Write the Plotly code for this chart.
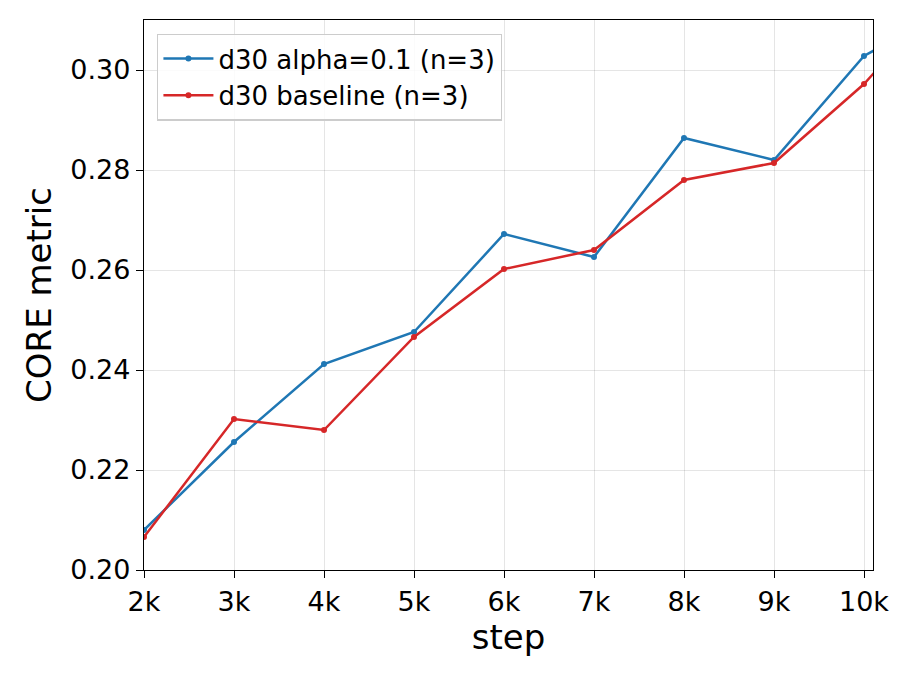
import plotly.graph_objects as go

steps = [2000, 3000, 4000, 5000, 6000, 7000, 8000, 9000, 10000, 11000]
alpha_vals = [0.2080, 0.2256, 0.2412, 0.2476, 0.2672, 0.2626, 0.2864, 0.2820, 0.3028, 0.3128]
base_vals = [0.2066, 0.2302, 0.2280, 0.2466, 0.2602, 0.2640, 0.2780, 0.2814, 0.2972, 0.3172]
tick_vals = [2000, 3000, 4000, 5000, 6000, 7000, 8000, 9000, 10000]
tick_text = ["2k", "3k", "4k", "5k", "6k", "7k", "8k", "9k", "10k"]

fig = go.Figure()
fig.add_trace(go.Scatter(x=steps, y=alpha_vals, mode="lines+markers", name="d30 alpha=0.1 (n=3)",
                         line=dict(color="#1f77b4", width=2.5), marker=dict(size=6, color="#1f77b4")))
fig.add_trace(go.Scatter(x=steps, y=base_vals, mode="lines+markers", name="d30 baseline (n=3)",
                         line=dict(color="#d62728", width=2.5), marker=dict(size=6, color="#d62728")))

axis_common = dict(showline=True, linecolor="black", linewidth=1.3, mirror=True,
                   ticks="outside", ticklen=7, tickwidth=1.3, tickcolor="black",
                   showgrid=True, gridcolor="rgba(0,0,0,0.1)", gridwidth=1,
                   zeroline=False, tickfont=dict(size=27, color="black"))

fig.update_layout(
    width=900, height=675,
    margin=dict(l=144, r=27, t=20, b=105),
    plot_bgcolor="white", paper_bgcolor="white",
    font=dict(family="DejaVu Sans", color="black"),
    xaxis=dict(range=[2000, 10100], tickvals=tick_vals, ticktext=tick_text,
               title=dict(text="step", font=dict(size=34), standoff=6), **axis_common),
    yaxis=dict(range=[0.20, 0.31], tickvals=[0.20, 0.22, 0.24, 0.26, 0.28, 0.30], tickformat=".2f",
               title=dict(text="CORE metric", font=dict(size=34), standoff=8), **axis_common),
    legend=dict(x=0.018, y=0.975, xanchor="left", yanchor="top",
                bgcolor="rgba(255,255,255,0.85)", bordercolor="#cccccc", borderwidth=1.3,
                font=dict(size=26), itemwidth=50, tracegroupgap=4),
    showlegend=True,
)

fig.write_html("out.html")
